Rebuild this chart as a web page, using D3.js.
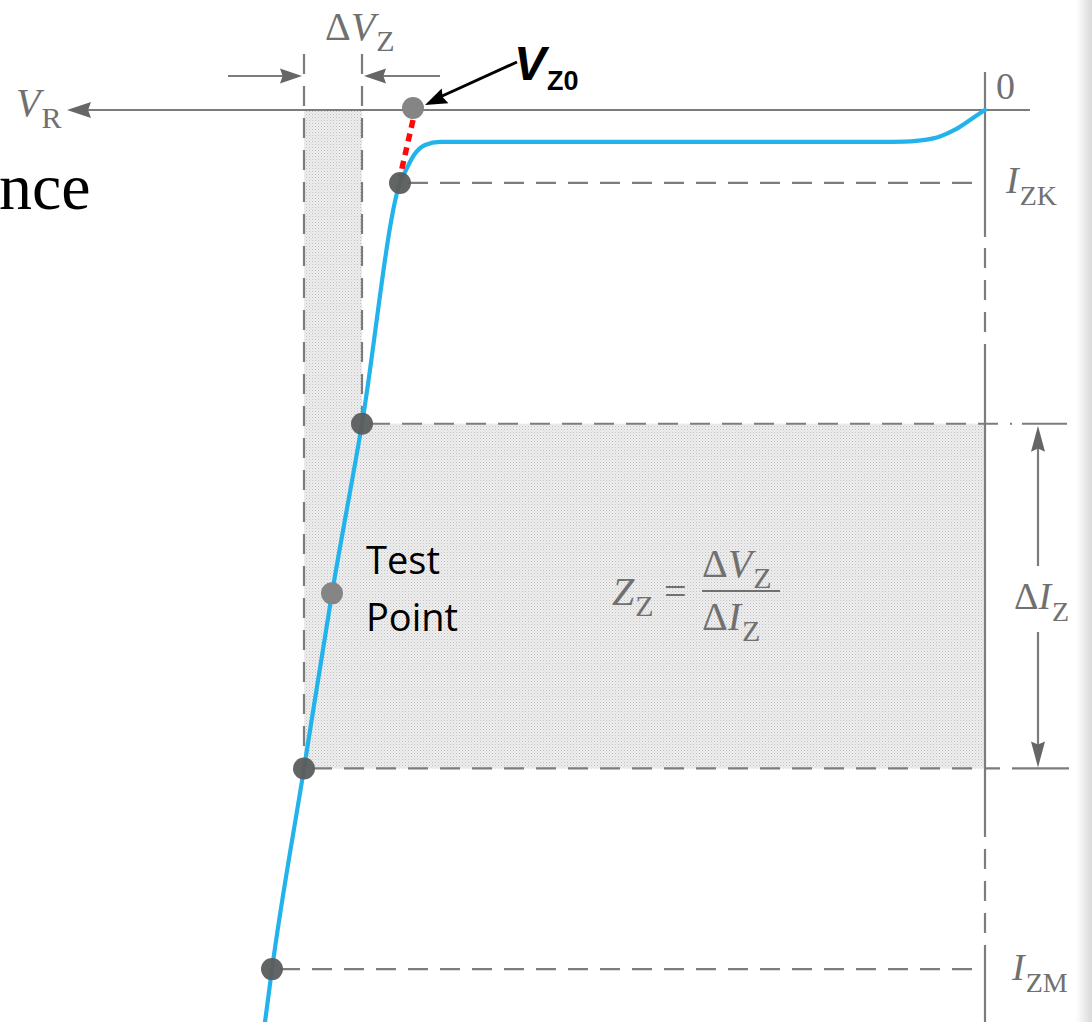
<!DOCTYPE html>
<html>
<head>
<meta charset="utf-8">
<script src="https://cdn.jsdelivr.net/npm/d3@7"></script>
<style>
  html, body { margin: 0; padding: 0; background: #ffffff; }
  svg { display: block; }
</style>
</head>
<body>
<script>
// Zener reverse characteristic: reverse voltage (arbitrary V) vs reverse current (mA)
const curveV = [0, 0.15, 0.30, 0.45, 0.60, 0.80, 1.05, 5.45, 5.60, 5.71, 5.79, 5.85, 6.23, 6.53, 6.81, 7.13, 7.20];
const curveI = [0, 0.55, 1.08, 1.45, 1.64, 1.73, 1.75, 1.75, 1.92, 2.47, 3.29, 4.0, 17.2, 26.5, 36.1, 47.1, 50];

// marked operating points: V_Z0, I_ZK, upper ΔI_Z, test point, lower ΔI_Z, I_ZM
const pointNames = ["VZ0", "IZK", "dITop", "Test", "dIBottom", "IZM"];
const pointV = [5.72, 5.85, 6.23, 6.53, 6.81, 7.13];
const pointI = [0, 4.0, 17.2, 26.5, 36.1, 47.1];

const W = 1092, H = 1022;
const x = d3.scaleLinear().domain([0, 9.1]).range([985, 75]);
const y = d3.scaleLinear().domain([0, 50]).range([110, 1022]);

const GRAY = "#707070";
const LINE = "#7c7c7c";
const SERIF = "'Liberation Serif', 'DejaVu Serif', serif";

const svg = d3.select("body").append("svg").attr("width", W).attr("height", H);
const defs = svg.append("defs");

// fine stipple used for the ΔV / ΔI region
const pat = defs.append("pattern").attr("id", "stipple")
  .attr("patternUnits", "userSpaceOnUse").attr("width", 3).attr("height", 3);
pat.append("rect").attr("width", 3).attr("height", 3).attr("fill", "#eeeeee");
pat.append("rect").attr("x", 0).attr("y", 0).attr("width", 1).attr("height", 1).attr("fill", "#bfbfbf");
pat.append("rect").attr("x", 1.5).attr("y", 1.5).attr("width", 1).attr("height", 1).attr("fill", "#d2d2d2");

// page edge shading on the right
const grad = defs.append("linearGradient").attr("id", "edge").attr("x1", 0).attr("x2", 1);
grad.append("stop").attr("offset", 0).attr("stop-color", "#ffffff");
grad.append("stop").attr("offset", 1).attr("stop-color", "#d9d9d9");
svg.append("rect").attr("x", 1076).attr("y", 0).attr("width", 16).attr("height", H).attr("fill", "url(#edge)");

const P = {};
pointNames.forEach((n, k) => P[n] = { v: pointV[k], i: pointI[k], px: x(pointV[k]), py: y(pointI[k]) });

const axisY = y(0), axisX = x(0);

// shaded region: ΔV_Z strip plus ΔI_Z band
const xl = P.dIBottom.px, xr = P.dITop.px;
const yt = P.dITop.py, yb = P.dIBottom.py;
svg.append("path")
  .attr("d", `M${xl},${axisY + 1}L${xr},${axisY + 1}L${xr},${yt}L${axisX},${yt}L${axisX},${yb}L${xl},${yb}Z`)
  .attr("fill", "url(#stipple)");

function arrowHead(tx, ty, angleDeg, len, half, color) {
  const a = angleDeg * Math.PI / 180;
  const bx = tx - len * Math.cos(a), by = ty - len * Math.sin(a);
  const nx = -Math.sin(a), ny = Math.cos(a);
  svg.append("path")
    .attr("d", `M${tx},${ty}L${bx + nx * half},${by + ny * half}L${bx + len * 0.12 * Math.cos(a)},${by + len * 0.12 * Math.sin(a)}L${bx - nx * half},${by - ny * half}Z`)
    .attr("fill", color);
}

const dash = "20,12";
function seg(x1, y1, x2, y2, dashed, color, w) {
  svg.append("line").attr("x1", x1).attr("y1", y1).attr("x2", x2).attr("y2", y2)
    .attr("stroke", color || LINE).attr("stroke-width", w || 2.2)
    .attr("stroke-dasharray", dashed ? dash : null);
}

// horizontal axis (V_R) with arrow
seg(86, axisY, 1030, axisY, false);
arrowHead(67, axisY, 180, 24, 8, "#666");

// vertical axis: solid with dashed stretches
seg(axisX, 72, axisX, 237, false);
seg(axisX, 248, axisX, 347, true);
seg(axisX, 347, axisX, 837, false);
seg(axisX, 849, axisX, 947, true);
seg(axisX, 947, axisX, H, false);

// ΔV_Z extension lines and arrows
seg(xl, 54, xl, yb, true);
seg(xr, 54, xr, yt, true);
seg(228, 76, xl - 18, 76, false);
arrowHead(xl - 2, 76, 0, 22, 7.5, "#666");
seg(440, 76, xr + 18, 76, false);
arrowHead(xr + 2, 76, 180, 22, 7.5, "#666");

// current level lines
seg(P.IZK.px + 8, P.IZK.py, 976, P.IZK.py, true);
seg(P.dITop.px + 8, yt, 1012, yt, true);
seg(1022, yt, 1067, yt, false);
seg(P.dIBottom.px + 8, yb, 1000, yb, true);
seg(1012, yb, 1069, yb, false);
seg(P.IZM.px + 8, P.IZM.py, axisX, P.IZM.py, true);

// ΔI_Z dimension arrow
const ax = 1038;
seg(ax, yt + 18, ax, 566, false);
seg(ax, 632, ax, yb - 18, false);
arrowHead(ax, yt + 2, -90, 26, 7, "#666");
arrowHead(ax, yb - 1, 90, 26, 7, "#666");

// characteristic curve (sorted left-to-right on screen for monotone interpolation)
const curvePts = curveV.map((v, k) => [x(v), y(curveI[k])]).sort((a, b) => a[0] - b[0]);
svg.append("path")
  .attr("d", d3.line().curve(d3.curveMonotoneX)(curvePts))
  .attr("fill", "none").attr("stroke", "#22b3ec").attr("stroke-width", 4.2)
  .attr("stroke-linecap", "round");

// extrapolation from I_ZK back to V_Z0
svg.append("line")
  .attr("x1", P.VZ0.px).attr("y1", P.VZ0.py + 10)
  .attr("x2", P.IZK.px).attr("y2", P.IZK.py - 6)
  .attr("stroke", "#ff0a0a").attr("stroke-width", 5.5).attr("stroke-dasharray", "8,6");

// operating point markers
const light = new Set(["VZ0", "Test"]);
svg.selectAll("circle.pt").data(pointNames).join("circle")
  .attr("class", "pt")
  .attr("cx", n => P[n].px).attr("cy", n => P[n].py - (n === "VZ0" ? 2 : 0))
  .attr("r", 11)
  .attr("fill", n => light.has(n) ? "#858585" : "#5b5c5c")
  .attr("fill-opacity", n => light.has(n) ? 1 : 0.95);

// V_Z0 pointer
svg.append("line").attr("x1", 517).attr("y1", 62).attr("x2", 440).attr("y2", 97)
  .attr("stroke", "#000").attr("stroke-width", 3);
arrowHead(P.VZ0.px + 12, P.VZ0.py - 5, 180 - 24.5, 22, 8, "#000");

// labels
function label(xp, yp, parts, size, anchor) {
  const main = size || 40;
  const t = svg.append("text").attr("x", xp).attr("y", yp)
    .attr("font-family", SERIF).attr("fill", GRAY).attr("font-size", main)
    .attr("text-anchor", anchor || "start");
  parts.forEach(p => {
    const s = t.append("tspan").text(p.t);
    if (p.i) s.attr("font-style", "italic");
    if (p.sub) s.attr("font-size", Math.round(main * 0.74)).attr("dy", p.sub);
    if (p.dx) s.attr("dx", p.dx);
  });
  return t;
}

label(16, 116, [{ t: "V", i: 1 }, { t: "R", sub: 12, dx: 1 }]);
label(325, 40, [{ t: "Δ" }, { t: "V", i: 1 }, { t: "Z", sub: 11, dx: 1 }]);
label(996, 99, [{ t: "0" }], 38);
label(1006, 193, [{ t: "I", i: 1 }, { t: "ZK", sub: 12, dx: 1 }], 38);
label(1012, 980, [{ t: "I", i: 1 }, { t: "ZM", sub: 12, dx: 1 }], 38);
label(1014, 609, [{ t: "Δ" }, { t: "I", i: 1 }, { t: "Z", sub: 12, dx: 1 }], 38);

// Z_Z = ΔV_Z / ΔI_Z
label(612, 605, [{ t: "Z", i: 1 }, { t: "Z", sub: 11, dx: 1 }], 40);
label(664, 605, [{ t: "=" }], 40);
label(702, 577, [{ t: "Δ" }, { t: "V", i: 1 }, { t: "Z", sub: 11, dx: 1 }], 40);
svg.append("line").attr("x1", 702).attr("x2", 780).attr("y1", 591).attr("y2", 591)
  .attr("stroke", GRAY).attr("stroke-width", 2.2);
label(702, 630, [{ t: "Δ" }, { t: "I", i: 1 }, { t: "Z", sub: 11, dx: 1 }], 40);

// V_Z0 callout text
const vz = svg.append("text").attr("x", 514).attr("y", 80)
  .attr("font-family", "'Liberation Sans Narrow', 'Liberation Sans', Arial, sans-serif")
  .attr("font-weight", "bold").attr("fill", "#000");
vz.append("tspan").text("V").attr("font-style", "italic").attr("font-size", 48);
vz.append("tspan").text("Z0").attr("font-size", 27).attr("dy", 10).attr("dx", 1);

// test point caption
const tp = svg.append("text").attr("font-family", "'Open Sans', Lato, sans-serif")
  .attr("font-size", 38).attr("fill", "#000");
tp.append("tspan").attr("x", 366).attr("y", 574).text("Test");
tp.append("tspan").attr("x", 366).attr("y", 631).text("Point");

// heading fragment at left margin
svg.append("text").attr("x", -1).attr("y", 209)
  .attr("font-family", SERIF).attr("font-size", 66).attr("fill", "#000").text("nce");
</script>
</body>
</html>
